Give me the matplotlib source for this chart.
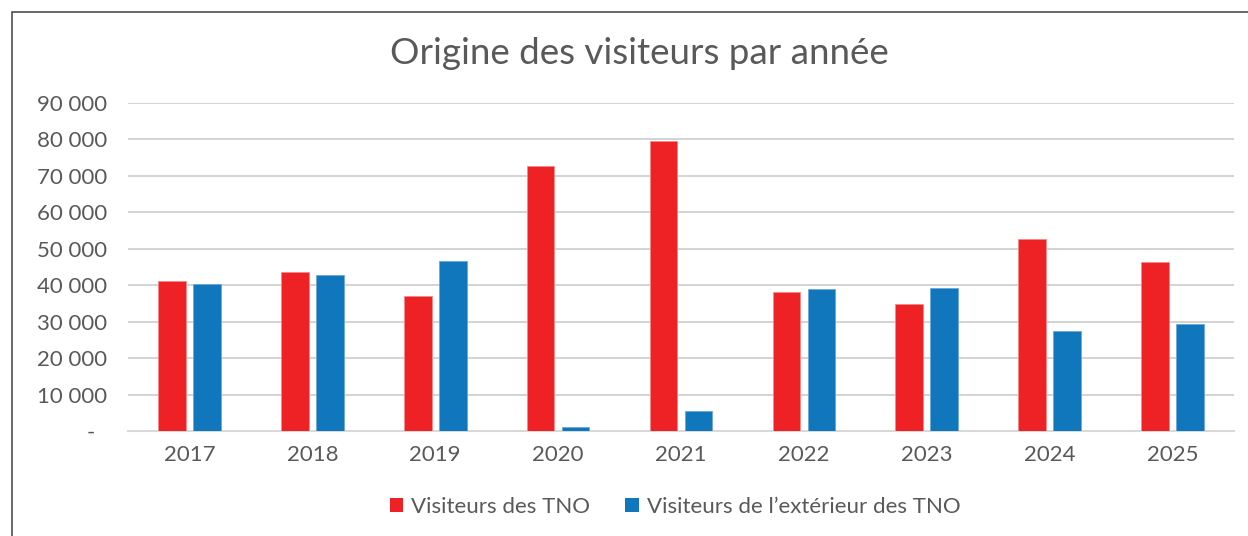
import numpy as np
import matplotlib
matplotlib.use('Agg')
import matplotlib.pyplot as plt
from matplotlib.patches import Rectangle, Patch

plt.rcParams['font.family'] = ['Lato', 'DejaVu Sans']

# data
years = ['2017', '2018', '2019', '2020', '2021', '2022', '2023', '2024', '2025']
tno = [41100, 43700, 37000, 72700, 79500, 38100, 34900, 52800, 46300]
ext = [40400, 42900, 46700, 1000, 5400, 39000, 39200, 27400, 29400]
series_names = ['Visiteurs des TNO', 'Visiteurs de l\u2019extérieur des TNO']
yticks = np.arange(0, 90001, 10000)

red = '#EE2224'
blue = '#1177BD'
grey_txt = '#595959'

W, H = 1248, 536
fig = plt.figure(figsize=(W/100, H/100), dpi=100)
ax = fig.add_axes([128/W, 1-431/H, (1234-128)/W, (431-103)/H])

x = np.arange(len(years))
bw = 0.225
off = 0.1425
ax.bar(x-off, tno, bw, color=red, edgecolor='#F48A8A', linewidth=0.6, zorder=3)
ax.bar(x+off, ext, bw, color=blue, edgecolor='#6FA8D6', linewidth=0.6, zorder=3)

ax.set_xlim(-0.5, len(years)-0.5)
ax.set_ylim(0, 90000)
ax.set_yticks(yticks)
ax.set_yticklabels(['{:,}'.format(v).replace(',', ' ') if v else '-  ' for v in yticks])
ax.set_xticks(x)
ax.set_xticklabels(years)
ax.tick_params(axis='both', length=0, labelsize=16, labelcolor=grey_txt)
ax.tick_params(axis='y', pad=15)
ax.tick_params(axis='x', pad=10)
ax.grid(axis='y', color='#D0D0D0', linewidth=1.3, zorder=0)
for s in ['top', 'right', 'left']:
    ax.spines[s].set_visible(False)
ax.spines['bottom'].set_color('#D9D9D9')
ax.spines['bottom'].set_linewidth(1.5)

fig.text(0.512, 1-53/H, 'Origine des visiteurs par année', ha='center', va='center',
         fontsize=26.5, color=grey_txt)

handles = [Patch(facecolor=red), Patch(facecolor=blue)]
fig.legend(handles, series_names, loc='center', bbox_to_anchor=(675/W, 1-507/H),
           ncol=2, frameon=False, fontsize=16, labelcolor=grey_txt,
           handlelength=0.6, handleheight=0.6, handletextpad=0.35, columnspacing=1.6)

# outer chart frame (left and top edges visible)
fig.add_artist(Rectangle((12/W, -0.1), 1.2, 1+0.1-12/H, transform=fig.transFigure,
                         fill=False, edgecolor='#404040', linewidth=1.1))

fig.savefig('out.png', dpi=100)
